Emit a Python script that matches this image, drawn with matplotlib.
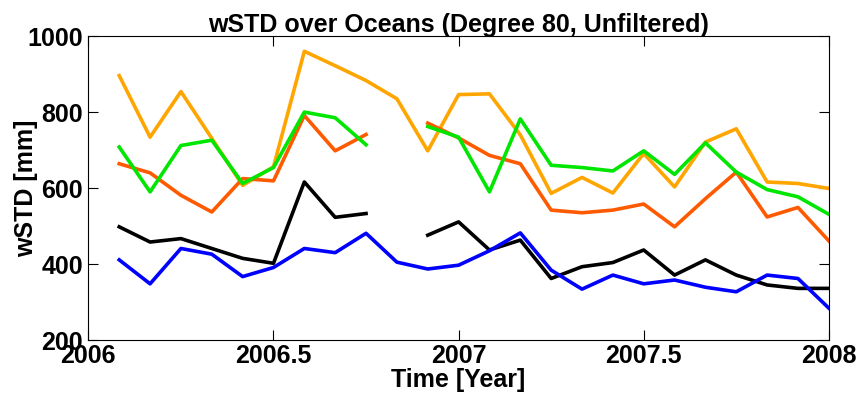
import numpy as np
import matplotlib
matplotlib.use("Agg")
import matplotlib.pyplot as plt

plt.rcParams['font.family'] = ['Liberation Sans', 'DejaVu Sans']
plt.rcParams['font.weight'] = 'bold'

# monthly time axis, 2006 + m/12
months = np.arange(1, 25)
time = 2006 + months / 12.0

nan = np.nan
# values (nan = gap)
orange = [896, 734, 854, 731, 607, 656, 960, 922, 883, 835, 698, 846,
          848, 740, 586, 628, 587, 691, 603, 721, 756, 616, 612, 599]
red = [664, 640, 581, 537, 625, 619, 791, 698, 741, nan, 771, 732,
       686, 664, 542, 535, 542, 558, 498, 572, 642, 524, 549, 461]
green = [708, 590, 712, 726, 612, 654, 800, 785, 714, nan, 762, 734,
         590, 782, 660, 654, 645, 698, 636, 719, 642, 596, 577, 531]
black = [498, 458, 467, 441, 415, 402, 616, 523, 533, nan, 476, 511,
         437, 463, 362, 393, 404, 437, 371, 411, 371, 345, 336, 336]
blue = [411, 348, 441, 426, 367, 391, 441, 430, 481, 405, 387, 397,
        435, 482, 384, 334, 371, 348, 358, 339, 327, 371, 362, 284]

series = [(orange, '#FFA500'), (red, '#FF5A00'), (green, '#00E600'),
          (black, '#000000'), (blue, '#0000FF')]

fig = plt.figure(figsize=(8.58, 4.01), dpi=100)
ax = fig.add_axes([0.103, 0.152, 0.863, 0.758])

for vals, col in series:
    ax.plot(time, vals, color=col, linewidth=2.6)

ax.set_xlim(2006, 2008)
ax.set_ylim(200, 1000)
ax.set_xticks([2006, 2006.5, 2007, 2007.5, 2008])
ax.set_xticklabels(['2006', '2006.5', '2007', '2007.5', '2008'])
ax.set_yticks([200, 400, 600, 800, 1000])
ax.tick_params(direction='in', length=7, width=0.8, top=True, right=True,
               labelsize=18)
ax.tick_params(axis='x', pad=3)
ax.tick_params(axis='y', pad=4)
for lab in ax.get_xticklabels() + ax.get_yticklabels():
    lab.set_fontweight('bold')

ax.set_title('wSTD over Oceans (Degree 80, Unfiltered)', fontsize=18,
             fontweight='bold', pad=3)
ax.set_xlabel('Time [Year]', fontsize=18, fontweight='bold', labelpad=0)
ax.set_ylabel('wSTD [mm]', fontsize=18, fontweight='bold', labelpad=-7.5)

fig.savefig('out.png', dpi=100)
